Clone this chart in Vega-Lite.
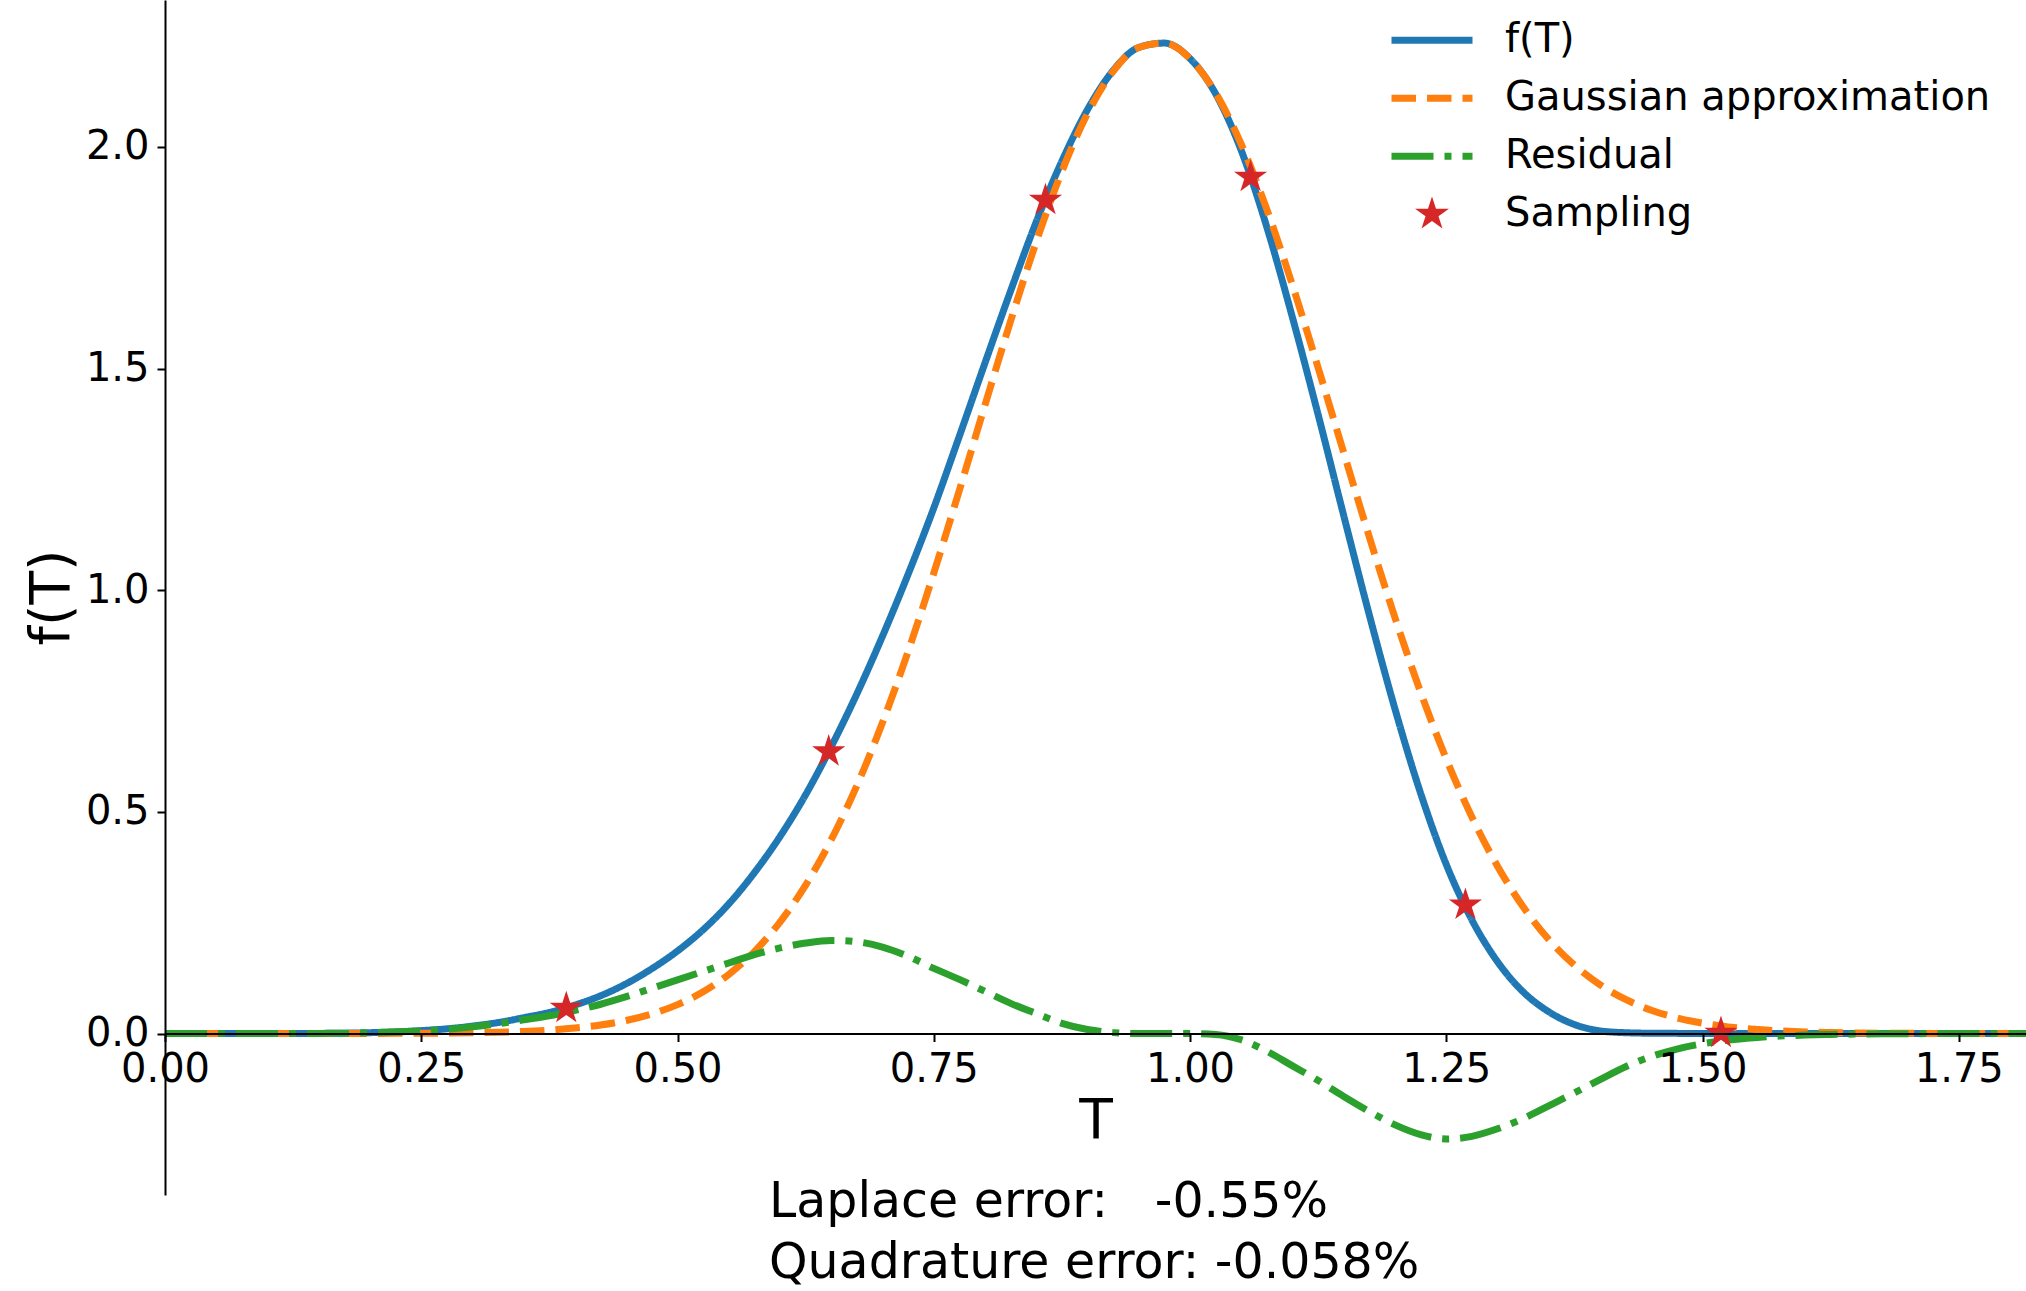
{
  "$schema": "https://vega.github.io/schema/vega-lite/v6.json",
  "width": 1861,
  "height": 1195,
  "autosize": {"type": "none"},
  "padding": {"left": 165, "top": 0, "right": 0, "bottom": 96},
  "background": "white",
  "title": {
    "text": ["Laplace error:\u00a0\u00a0\u00a0-0.55%", "Quadrature error: -0.058%"],
    "orient": "bottom",
    "anchor": "start",
    "frame": "group",
    "align": "left",
    "baseline": "alphabetic",
    "dx": 604,
    "offset": 22,
    "lineHeight": 61,
    "font": "DejaVu Sans",
    "fontSize": 49,
    "fontWeight": "normal",
    "color": "black"
  },
  "datasets": {
    "curves": [
      {"T": 0.000, "f": 0, "gauss": 0, "resid": 0},
      {"T": 0.025, "f": 0, "gauss": 0, "resid": 0},
      {"T": 0.050, "f": 0, "gauss": 0, "resid": 0},
      {"T": 0.075, "f": 0, "gauss": 0, "resid": 0},
      {"T": 0.100, "f": 0, "gauss": 0, "resid": 0},
      {"T": 0.125, "f": 0, "gauss": 0, "resid": 0},
      {"T": 0.150, "f": 0.0002, "gauss": 0, "resid": 0.0002},
      {"T": 0.175, "f": 0.0007, "gauss": 0, "resid": 0.0007},
      {"T": 0.200, "f": 0.0019, "gauss": 0.0002, "resid": 0.0017},
      {"T": 0.225, "f": 0.0037, "gauss": 0.0003, "resid": 0.0034},
      {"T": 0.250, "f": 0.0065, "gauss": 0.0005, "resid": 0.006},
      {"T": 0.275, "f": 0.0105, "gauss": 0.001, "resid": 0.0095},
      {"T": 0.300, "f": 0.0167, "gauss": 0.0017, "resid": 0.015},
      {"T": 0.325, "f": 0.0248, "gauss": 0.0028, "resid": 0.022},
      {"T": 0.350, "f": 0.0357, "gauss": 0.0047, "resid": 0.031},
      {"T": 0.375, "f": 0.0477, "gauss": 0.0077, "resid": 0.040},
      {"T": 0.400, "f": 0.0643, "gauss": 0.0123, "resid": 0.052},
      {"T": 0.425, "f": 0.0852, "gauss": 0.0192, "resid": 0.066},
      {"T": 0.450, "f": 0.1124, "gauss": 0.0294, "resid": 0.083},
      {"T": 0.475, "f": 0.1463, "gauss": 0.0443, "resid": 0.102},
      {"T": 0.500, "f": 0.1862, "gauss": 0.0652, "resid": 0.121},
      {"T": 0.525, "f": 0.2341, "gauss": 0.0941, "resid": 0.140},
      {"T": 0.550, "f": 0.2923, "gauss": 0.1333, "resid": 0.159},
      {"T": 0.575, "f": 0.3628, "gauss": 0.1848, "resid": 0.178},
      {"T": 0.600, "f": 0.4443, "gauss": 0.2513, "resid": 0.193},
      {"T": 0.625, "f": 0.5387, "gauss": 0.3347, "resid": 0.204},
      {"T": 0.650, "f": 0.6472, "gauss": 0.4372, "resid": 0.210},
      {"T": 0.675, "f": 0.7662, "gauss": 0.5592, "resid": 0.207},
      {"T": 0.700, "f": 0.8964, "gauss": 0.7014, "resid": 0.195},
      {"T": 0.725, "f": 1.0360, "gauss": 0.8620, "resid": 0.174},
      {"T": 0.750, "f": 1.1854, "gauss": 1.0384, "resid": 0.147},
      {"T": 0.775, "f": 1.3476, "gauss": 1.2256, "resid": 0.122},
      {"T": 0.800, "f": 1.5128, "gauss": 1.4178, "resid": 0.095},
      {"T": 0.825, "f": 1.6752, "gauss": 1.6072, "resid": 0.068},
      {"T": 0.850, "f": 1.8309, "gauss": 1.7859, "resid": 0.045},
      {"T": 0.875, "f": 1.9677, "gauss": 1.9447, "resid": 0.023},
      {"T": 0.900, "f": 2.0842, "gauss": 2.0752, "resid": 0.009},
      {"T": 0.925, "f": 2.1723, "gauss": 2.1703, "resid": 0.002},
      {"T": 0.950, "f": 2.2243, "gauss": 2.2243, "resid": 0},
      {"T": 0.975, "f": 2.2342, "gauss": 2.2342, "resid": 0},
      {"T": 1.000, "f": 2.1993, "gauss": 2.1993, "resid": 0},
      {"T": 1.025, "f": 2.1198, "gauss": 2.1218, "resid": -0.002},
      {"T": 1.050, "f": 1.9920, "gauss": 2.0060, "resid": -0.014},
      {"T": 1.075, "f": 1.8187, "gauss": 1.8587, "resid": -0.040},
      {"T": 1.100, "f": 1.6148, "gauss": 1.6878, "resid": -0.073},
      {"T": 1.125, "f": 1.3960, "gauss": 1.5020, "resid": -0.106},
      {"T": 1.150, "f": 1.1680, "gauss": 1.3100, "resid": -0.142},
      {"T": 1.175, "f": 0.9436, "gauss": 1.1196, "resid": -0.176},
      {"T": 1.200, "f": 0.7319, "gauss": 0.9379, "resid": -0.206},
      {"T": 1.225, "f": 0.5419, "gauss": 0.7699, "resid": -0.228},
      {"T": 1.250, "f": 0.3814, "gauss": 0.6194, "resid": -0.238},
      {"T": 1.275, "f": 0.2564, "gauss": 0.4884, "resid": -0.232},
      {"T": 1.300, "f": 0.1620, "gauss": 0.3774, "resid": -0.215},
      {"T": 1.325, "f": 0.0940, "gauss": 0.2858, "resid": -0.192},
      {"T": 1.350, "f": 0.0491, "gauss": 0.2121, "resid": -0.163},
      {"T": 1.375, "f": 0.0203, "gauss": 0.1543, "resid": -0.134},
      {"T": 1.400, "f": 0.0060, "gauss": 0.1100, "resid": -0.104},
      {"T": 1.425, "f": 0.0018, "gauss": 0.0768, "resid": -0.075},
      {"T": 1.450, "f": 0.0006, "gauss": 0.0526, "resid": -0.052},
      {"T": 1.475, "f": 0.0003, "gauss": 0.0353, "resid": -0.035},
      {"T": 1.500, "f": 0.0002, "gauss": 0.0232, "resid": -0.023},
      {"T": 1.525, "f": 0.0001, "gauss": 0.0150, "resid": -0.0149},
      {"T": 1.550, "f": 0, "gauss": 0.0094, "resid": -0.0094},
      {"T": 1.575, "f": 0, "gauss": 0.0058, "resid": -0.0058},
      {"T": 1.600, "f": 0, "gauss": 0.0035, "resid": -0.0035},
      {"T": 1.625, "f": 0, "gauss": 0.0021, "resid": -0.0021},
      {"T": 1.650, "f": 0, "gauss": 0.0012, "resid": -0.0012},
      {"T": 1.675, "f": 0, "gauss": 0.0007, "resid": -0.0007},
      {"T": 1.700, "f": 0, "gauss": 0.0004, "resid": -0.0004},
      {"T": 1.725, "f": 0, "gauss": 0.0002, "resid": -0.0002},
      {"T": 1.750, "f": 0, "gauss": 0.0001, "resid": -0.0001},
      {"T": 1.775, "f": 0, "gauss": 0, "resid": 0},
      {"T": 1.800, "f": 0, "gauss": 0, "resid": 0},
      {"T": 1.825, "f": 0, "gauss": 0, "resid": 0}
    ],
    "samples": [
      {"T": 0.3915, "value": 0.057, "series": "Sampling"},
      {"T": 0.6475, "value": 0.636, "series": "Sampling"},
      {"T": 0.859, "value": 1.88, "series": "Sampling"},
      {"T": 1.0591, "value": 1.932, "series": "Sampling"},
      {"T": 1.2687, "value": 0.29, "series": "Sampling"},
      {"T": 1.518, "value": 0.001, "series": "Sampling"}
    ]
  },
  "layer": [
    {
      "data": {"name": "curves"},
      "transform": [{"fold": ["f", "gauss", "resid"], "as": ["series", "value"]}],
      "mark": {"type": "line", "strokeWidth": 7, "interpolate": "monotone", "clip": true},
      "encoding": {
        "x": {
          "field": "T", "type": "quantitative",
          "scale": {"domain": [0, 1.8156], "nice": false, "zero": false},
          "axis": {
            "values": [0, 0.25, 0.5, 0.75, 1, 1.25, 1.5, 1.75],
            "format": ".2f",
            "offset": -161.5,
            "zindex": 1,
            "title": "T",
            "titleY": 104,
            "titleBaseline": "alphabetic"
          }
        },
        "y": {
          "field": "value", "type": "quantitative",
          "scale": {"domain": [-0.3643, 2.3314], "nice": false, "zero": false},
          "axis": {
            "values": [0, 0.5, 1, 1.5, 2],
            "format": ".1f",
            "zindex": 1,
            "title": "f(T)",
            "titleX": -97,
            "titleY": 597,
            "titleAngle": 270,
            "titleAlign": "center",
            "titleBaseline": "alphabetic"
          }
        },
        "color": {
          "field": "series", "type": "nominal",
          "scale": {"domain": ["f", "gauss", "resid", "Sampling"], "range": ["#1f77b4", "#ff7f0e", "#2ca02c", "#d62728"]},
          "legend": {"title": null, "orient": "none", "legendX": 1247, "legendY": 20.2,
            "labelExpr": "datum.value == 'f' ? 'f(T)' : datum.value == 'gauss' ? 'Gaussian approximation' : datum.value == 'resid' ? 'Residual' : 'Sampling'",
            "encoding": {"symbols": {"strokeWidth": {"value": {"expr": "datum.value === 'Sampling' ? 0 : 7"}}}}}
        },
        "strokeDash": {
          "field": "series", "type": "nominal",
          "scale": {"domain": ["f", "gauss", "resid", "Sampling"], "range": [[1, 0], [24.5, 11], [42, 11, 7, 11], [1, 0]]},
          "legend": {"title": null, "orient": "none", "legendX": 1247, "legendY": 20.2,
            "labelExpr": "datum.value == 'f' ? 'f(T)' : datum.value == 'gauss' ? 'Gaussian approximation' : datum.value == 'resid' ? 'Residual' : 'Sampling'",
            "encoding": {"symbols": {"strokeWidth": {"value": {"expr": "datum.value === 'Sampling' ? 0 : 7"}}}}}
        }
      }
    },
    {
      "data": {"name": "samples"},
      "mark": {"type": "point", "filled": true, "opacity": 1, "size": 6290, "strokeWidth": 0},
      "encoding": {
        "x": {"field": "T", "type": "quantitative"},
        "y": {"field": "value", "type": "quantitative"},
        "color": {"field": "series", "type": "nominal"},
        "shape": {
          "field": "series", "type": "nominal",
          "scale": {"domain": ["f", "gauss", "resid", "Sampling"], "range": ["stroke", "stroke", "stroke", "M0,-0.44L0.0988,-0.136L0.4184,-0.136L0.1597,0.0519L0.2587,0.356L0,0.1681L-0.2587,0.356L-0.1597,0.0519L-0.4184,-0.136L-0.0988,-0.136Z"]},
          "legend": {"title": null, "orient": "none", "legendX": 1247, "legendY": 20.2,
            "labelExpr": "datum.value == 'f' ? 'f(T)' : datum.value == 'gauss' ? 'Gaussian approximation' : datum.value == 'resid' ? 'Residual' : 'Sampling'",
            "encoding": {"symbols": {"strokeWidth": {"value": {"expr": "datum.value === 'Sampling' ? 0 : 7"}}}}}
        }
      }
    }
  ],
  "config": {
    "view": {"stroke": null},
    "axis": {
      "grid": false,
      "domainColor": "black",
      "domainWidth": 2,
      "tickColor": "black",
      "tickWidth": 2,
      "tickSize": 8,
      "labelColor": "black",
      "labelFont": "DejaVu Sans",
      "labelFontSize": 40,
      "labelPadding": 8,
      "labelFlush": false,
      "labelOverlap": false,
      "titleFont": "DejaVu Sans",
      "titleFontSize": 55,
      "titleFontWeight": "normal",
      "titleColor": "black"
    },
    "legend": {
      "symbolSize": 6561,
      "symbolStrokeWidth": 7,
      "labelFont": "DejaVu Sans",
      "labelFontSize": 40,
      "labelColor": "black",
      "labelOffset": 53,
      "labelLimit": 1000,
      "padding": 0,
      "rowPadding": 18
    }
  }
}
